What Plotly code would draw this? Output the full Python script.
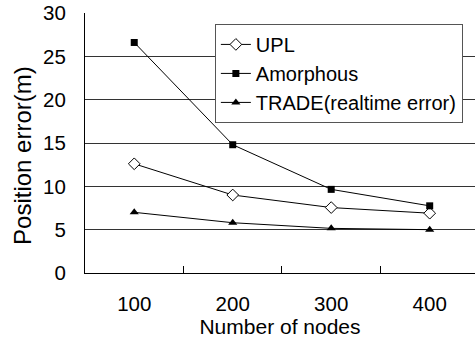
import plotly.graph_objects as go

nodes = ["100", "200", "300", "400"]
upl = [12.6, 9.0, 7.55, 6.9]
amorphous = [26.6, 14.8, 9.65, 7.75]
trade = [7.0, 5.8, 5.15, 5.0]

font = "Liberation Sans, Arial, sans-serif"

fig = go.Figure()
fig.add_trace(go.Scatter(x=nodes, y=upl, name="UPL", mode="lines+markers",
                         line=dict(color="black", width=1),
                         marker=dict(symbol="diamond", size=9, color="white",
                                     line=dict(color="black", width=1))))
fig.add_trace(go.Scatter(x=nodes, y=amorphous, name="Amorphous", mode="lines+markers",
                         line=dict(color="black", width=1),
                         marker=dict(symbol="square", size=7, color="black")))
fig.add_trace(go.Scatter(x=nodes, y=trade, name="TRADE(realtime error)", mode="lines+markers",
                         line=dict(color="black", width=1),
                         marker=dict(symbol="triangle-up", size=8, color="black")))

fig.update_layout(
    width=475, height=339,
    margin=dict(l=85, r=0, t=13, b=66),
    plot_bgcolor="white", paper_bgcolor="white",
    font=dict(family=font, size=20, color="black"),
    legend=dict(x=0.333, y=0.958, xanchor="left", yanchor="top",
                bgcolor="white", bordercolor="#555555", borderwidth=1,
                font=dict(size=20), itemwidth=30, tracegroupgap=0),
    xaxis=dict(type="category", range=[-0.5, 3.46], tickson="boundaries",
               ticks="inside", ticklen=7, tickcolor="black", tickwidth=1,
               showline=True, linecolor="black", linewidth=1, showgrid=False,
               title=dict(text="Number of nodes", standoff=2, font=dict(size=21)),
               tickfont=dict(size=20.5), ticklabelstandoff=12),
    yaxis=dict(range=[0, 30], dtick=5, showgrid=True, gridcolor="#333333", gridwidth=1,
               showline=True, linecolor="black", linewidth=1, ticks="",
               zeroline=False, tickfont=dict(size=20.5), ticklabelstandoff=14),
    annotations=[dict(text="Position error(m)", textangle=-90, showarrow=False,
                      xref="paper", yref="paper", x=-0.159, y=0.454,
                      xanchor="center", yanchor="middle", font=dict(size=24))],
)

# remove the page's default 8px body margin so the figure fills the window
fig.write_html("out.html", config={"displayModeBar": False},
               post_script="document.body.style.margin='0';")
